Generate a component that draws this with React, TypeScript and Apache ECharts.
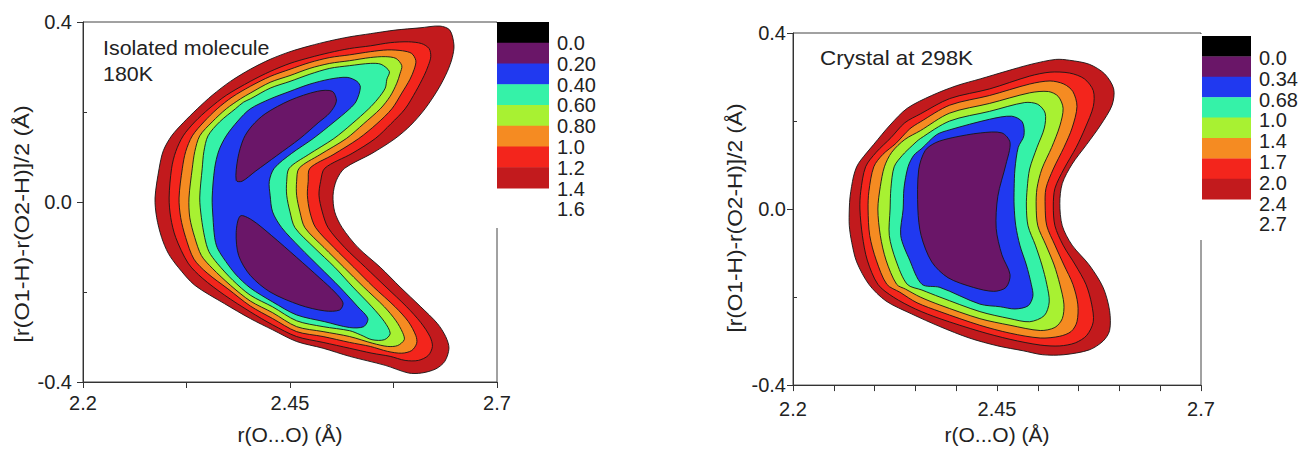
import { useEffect, useRef } from "react";
import * as echarts from "echarts";

// ---------- Left panel: isolated molecule, 180K (contour boundaries, data units) ----------
const isoOuter = [[2.287,0.009],[2.292,0.075],[2.297,0.114],[2.307,0.147],[2.321,0.176],[2.338,0.207],[2.356,0.237],[2.378,0.268],[2.402,0.295],[2.426,0.317],[2.450,0.334],[2.474,0.347],[2.498,0.358],[2.522,0.367],[2.547,0.374],[2.577,0.382],[2.607,0.387],[2.631,0.391],[2.643,0.382],[2.648,0.349],[2.646,0.321],[2.640,0.290],[2.629,0.251],[2.613,0.207],[2.596,0.171],[2.577,0.141],[2.549,0.108],[2.516,0.075],[2.506,0.048],[2.502,0.015],[2.504,-0.022],[2.513,-0.057],[2.532,-0.101],[2.559,-0.145],[2.583,-0.189],[2.608,-0.233],[2.628,-0.270],[2.638,-0.299],[2.642,-0.325],[2.637,-0.354],[2.626,-0.371],[2.609,-0.380],[2.593,-0.380],[2.565,-0.363],[2.522,-0.343],[2.490,-0.325],[2.458,-0.310],[2.429,-0.284],[2.402,-0.259],[2.371,-0.226],[2.335,-0.185],[2.315,-0.145],[2.303,-0.114],[2.295,-0.079],[2.289,-0.035]];
const isoRed = [[2.304,0.009],[2.307,0.075],[2.312,0.112],[2.321,0.147],[2.335,0.178],[2.352,0.207],[2.373,0.237],[2.402,0.268],[2.426,0.290],[2.450,0.308],[2.474,0.321],[2.498,0.332],[2.522,0.341],[2.547,0.347],[2.571,0.354],[2.593,0.356],[2.609,0.352],[2.618,0.341],[2.620,0.323],[2.617,0.303],[2.612,0.281],[2.602,0.246],[2.589,0.207],[2.572,0.174],[2.553,0.141],[2.525,0.108],[2.492,0.075],[2.487,0.046],[2.485,0.015],[2.489,-0.022],[2.496,-0.057],[2.516,-0.101],[2.541,-0.145],[2.566,-0.189],[2.591,-0.233],[2.608,-0.268],[2.619,-0.299],[2.622,-0.321],[2.617,-0.341],[2.605,-0.352],[2.589,-0.352],[2.571,-0.343],[2.549,-0.336],[2.522,-0.325],[2.490,-0.312],[2.458,-0.299],[2.429,-0.273],[2.402,-0.244],[2.371,-0.207],[2.344,-0.169],[2.327,-0.136],[2.312,-0.079],[2.306,-0.035]];
const isoOrange = [[2.316,0.009],[2.320,0.075],[2.324,0.112],[2.332,0.147],[2.346,0.178],[2.362,0.207],[2.380,0.233],[2.402,0.257],[2.426,0.279],[2.450,0.295],[2.474,0.310],[2.498,0.321],[2.522,0.327],[2.547,0.334],[2.568,0.338],[2.586,0.336],[2.597,0.330],[2.602,0.314],[2.600,0.295],[2.595,0.273],[2.585,0.242],[2.573,0.207],[2.555,0.174],[2.533,0.141],[2.502,0.105],[2.474,0.075],[2.472,0.046],[2.471,0.015],[2.474,-0.022],[2.481,-0.057],[2.503,-0.101],[2.527,-0.145],[2.551,-0.189],[2.577,-0.233],[2.593,-0.266],[2.602,-0.297],[2.603,-0.314],[2.597,-0.330],[2.585,-0.336],[2.568,-0.332],[2.547,-0.321],[2.522,-0.312],[2.490,-0.299],[2.458,-0.288],[2.429,-0.259],[2.402,-0.231],[2.375,-0.193],[2.350,-0.158],[2.334,-0.127],[2.324,-0.079],[2.318,-0.035]];
const isoLime = [[2.328,0.009],[2.332,0.075],[2.335,0.112],[2.341,0.147],[2.356,0.178],[2.373,0.207],[2.390,0.229],[2.402,0.242],[2.426,0.266],[2.450,0.281],[2.474,0.297],[2.498,0.308],[2.522,0.314],[2.547,0.321],[2.565,0.323],[2.578,0.319],[2.585,0.303],[2.583,0.286],[2.579,0.264],[2.571,0.235],[2.559,0.207],[2.539,0.174],[2.518,0.141],[2.486,0.105],[2.461,0.075],[2.458,0.046],[2.458,0.015],[2.462,-0.022],[2.468,-0.057],[2.491,-0.101],[2.515,-0.145],[2.539,-0.189],[2.564,-0.233],[2.578,-0.264],[2.586,-0.290],[2.588,-0.306],[2.580,-0.319],[2.568,-0.321],[2.550,-0.314],[2.522,-0.299],[2.490,-0.288],[2.458,-0.277],[2.429,-0.246],[2.402,-0.220],[2.378,-0.185],[2.356,-0.147],[2.343,-0.119],[2.335,-0.079],[2.329,-0.035]];
const isoCyan = [[2.341,0.009],[2.344,0.075],[2.346,0.112],[2.351,0.147],[2.365,0.178],[2.384,0.207],[2.394,0.222],[2.402,0.229],[2.426,0.253],[2.450,0.268],[2.474,0.284],[2.498,0.297],[2.522,0.303],[2.547,0.308],[2.560,0.306],[2.570,0.290],[2.567,0.273],[2.565,0.253],[2.556,0.229],[2.545,0.207],[2.525,0.174],[2.503,0.141],[2.472,0.105],[2.449,0.075],[2.446,0.046],[2.446,0.015],[2.450,-0.022],[2.456,-0.057],[2.479,-0.101],[2.504,-0.145],[2.526,-0.189],[2.549,-0.233],[2.564,-0.266],[2.571,-0.292],[2.564,-0.306],[2.549,-0.306],[2.535,-0.295],[2.522,-0.286],[2.490,-0.277],[2.458,-0.264],[2.429,-0.233],[2.402,-0.207],[2.381,-0.174],[2.362,-0.136],[2.352,-0.110],[2.347,-0.079],[2.343,-0.035]];
const isoBlue = [[2.356,0.009],[2.359,0.075],[2.364,0.114],[2.373,0.147],[2.387,0.180],[2.402,0.207],[2.426,0.229],[2.450,0.246],[2.474,0.262],[2.498,0.273],[2.519,0.277],[2.531,0.268],[2.535,0.255],[2.530,0.224],[2.522,0.207],[2.502,0.176],[2.478,0.141],[2.452,0.108],[2.431,0.075],[2.425,0.046],[2.426,0.015],[2.429,-0.022],[2.440,-0.057],[2.462,-0.101],[2.486,-0.145],[2.510,-0.189],[2.532,-0.233],[2.544,-0.259],[2.539,-0.277],[2.522,-0.279],[2.492,-0.266],[2.458,-0.251],[2.429,-0.222],[2.402,-0.191],[2.384,-0.160],[2.369,-0.123],[2.362,-0.101],[2.359,-0.079],[2.357,-0.035]];
const isoPurpleUpper = [[2.385,0.048],[2.387,0.097],[2.394,0.141],[2.404,0.169],[2.420,0.196],[2.450,0.226],[2.483,0.246],[2.501,0.246],[2.506,0.224],[2.498,0.198],[2.484,0.176],[2.462,0.141],[2.434,0.103],[2.408,0.068],[2.392,0.046]];
const isoPurpleLower = [[2.390,-0.031],[2.385,-0.068],[2.388,-0.119],[2.402,-0.163],[2.426,-0.200],[2.462,-0.229],[2.492,-0.242],[2.510,-0.240],[2.514,-0.224],[2.504,-0.200],[2.486,-0.169],[2.458,-0.123],[2.428,-0.075],[2.404,-0.040]];

// ---------- Right panel: crystal at 298K ----------
const cryOuter = [[2.269,0.000],[2.270,0.029],[2.274,0.073],[2.278,0.096],[2.283,0.111],[2.299,0.147],[2.319,0.191],[2.340,0.229],[2.370,0.258],[2.400,0.280],[2.430,0.296],[2.461,0.313],[2.492,0.329],[2.522,0.340],[2.539,0.338],[2.563,0.329],[2.582,0.307],[2.593,0.273],[2.591,0.236],[2.577,0.191],[2.560,0.147],[2.542,0.102],[2.530,0.058],[2.527,0.013],[2.530,-0.038],[2.542,-0.082],[2.563,-0.127],[2.580,-0.178],[2.588,-0.231],[2.588,-0.276],[2.580,-0.300],[2.563,-0.320],[2.532,-0.331],[2.506,-0.331],[2.482,-0.322],[2.451,-0.311],[2.416,-0.293],[2.380,-0.267],[2.345,-0.238],[2.314,-0.209],[2.293,-0.171],[2.278,-0.120],[2.272,-0.076],[2.269,-0.038]];
const cryRed = [[2.282,0.000],[2.283,0.040],[2.289,0.096],[2.302,0.129],[2.320,0.162],[2.337,0.196],[2.356,0.216],[2.392,0.251],[2.441,0.273],[2.490,0.302],[2.515,0.311],[2.539,0.309],[2.557,0.296],[2.568,0.269],[2.568,0.233],[2.558,0.184],[2.547,0.140],[2.532,0.091],[2.521,0.047],[2.519,0.007],[2.521,-0.038],[2.531,-0.082],[2.546,-0.127],[2.559,-0.171],[2.566,-0.216],[2.568,-0.256],[2.560,-0.287],[2.546,-0.304],[2.527,-0.311],[2.503,-0.309],[2.466,-0.296],[2.429,-0.278],[2.380,-0.249],[2.350,-0.227],[2.323,-0.200],[2.304,-0.171],[2.291,-0.116],[2.285,-0.060]];
const cryOrange = [[2.292,0.000],[2.293,0.040],[2.299,0.096],[2.310,0.124],[2.326,0.149],[2.343,0.182],[2.356,0.198],[2.392,0.236],[2.441,0.258],[2.490,0.284],[2.515,0.291],[2.532,0.284],[2.543,0.267],[2.548,0.233],[2.542,0.184],[2.532,0.140],[2.519,0.091],[2.510,0.047],[2.509,0.007],[2.511,-0.038],[2.521,-0.082],[2.532,-0.127],[2.543,-0.171],[2.549,-0.216],[2.548,-0.256],[2.541,-0.278],[2.527,-0.289],[2.503,-0.293],[2.466,-0.282],[2.429,-0.264],[2.380,-0.233],[2.352,-0.213],[2.331,-0.189],[2.315,-0.171],[2.302,-0.116],[2.294,-0.060]];
const cryLime = [[2.304,0.000],[2.307,0.051],[2.312,0.096],[2.321,0.129],[2.337,0.158],[2.356,0.178],[2.392,0.218],[2.441,0.240],[2.490,0.264],[2.513,0.267],[2.525,0.256],[2.531,0.229],[2.527,0.189],[2.517,0.140],[2.505,0.091],[2.499,0.047],[2.498,0.007],[2.500,-0.038],[2.510,-0.082],[2.520,-0.127],[2.527,-0.171],[2.532,-0.216],[2.530,-0.249],[2.521,-0.269],[2.503,-0.276],[2.466,-0.264],[2.429,-0.249],[2.380,-0.218],[2.356,-0.200],[2.338,-0.182],[2.327,-0.171],[2.314,-0.116],[2.307,-0.060]];
const cryCyan = [[2.319,0.000],[2.320,0.047],[2.324,0.096],[2.334,0.122],[2.346,0.144],[2.356,0.160],[2.392,0.200],[2.441,0.222],[2.484,0.242],[2.500,0.238],[2.509,0.218],[2.508,0.184],[2.499,0.140],[2.490,0.091],[2.487,0.047],[2.486,0.007],[2.488,-0.038],[2.497,-0.082],[2.505,-0.127],[2.511,-0.171],[2.514,-0.211],[2.508,-0.242],[2.490,-0.256],[2.466,-0.249],[2.429,-0.233],[2.380,-0.200],[2.358,-0.184],[2.340,-0.171],[2.326,-0.116],[2.318,-0.060]];
const cryBlue = [[2.335,0.000],[2.336,0.047],[2.341,0.096],[2.348,0.122],[2.358,0.138],[2.376,0.169],[2.392,0.180],[2.441,0.204],[2.468,0.211],[2.481,0.198],[2.483,0.167],[2.476,0.140],[2.472,0.091],[2.471,0.047],[2.471,0.007],[2.473,-0.038],[2.478,-0.082],[2.486,-0.127],[2.492,-0.171],[2.494,-0.198],[2.488,-0.220],[2.472,-0.227],[2.454,-0.222],[2.429,-0.216],[2.380,-0.178],[2.358,-0.171],[2.343,-0.116],[2.332,-0.060]];
const cryPurple = [[2.353,0.000],[2.354,0.089],[2.362,0.133],[2.375,0.151],[2.395,0.162],[2.430,0.173],[2.456,0.173],[2.466,0.151],[2.461,0.102],[2.451,0.029],[2.449,-0.044],[2.456,-0.104],[2.466,-0.149],[2.461,-0.178],[2.446,-0.187],[2.421,-0.178],[2.390,-0.156],[2.370,-0.120],[2.357,-0.060]];

// ---------- Colours, legends, ticks ----------
const bandColors = ["#c21a1d", "#f3251c", "#f58b22", "#a8f132", "#35f2a8", "#2039f0", "#6a1668"];
const legendColors = ["#000000", "#6a1668", "#2039f0", "#35f2a8", "#a8f132", "#f58b22", "#f3251c", "#c21a1d"];
const isoLegendLabels = ["0.0", "0.20", "0.40", "0.60", "0.80", "1.0", "1.2", "1.4", "1.6"];
const cryLegendLabels = ["0.0", "0.34", "0.68", "1.0", "1.4", "1.7", "2.0", "2.4", "2.7"];
const isoXTicks = [2.2, 2.325, 2.45, 2.575, 2.7];
const cryXTicks = [2.2, 2.25, 2.3, 2.35, 2.4, 2.45, 2.5, 2.55, 2.6, 2.65, 2.7];
const xLabelValues = [2.2, 2.45, 2.7];
const yMajorTicks = [-0.4, 0, 0.4];
const yMinorTicks = [-0.2, 0.2];

const isoBands = [isoOuter, isoRed, isoOrange, isoLime, isoCyan, isoBlue, isoPurpleUpper, isoPurpleLower];
const isoBandColors = [...bandColors, bandColors[6]];
const cryBands = [cryOuter, cryRed, cryOrange, cryLime, cryCyan, cryBlue, cryPurple];

const FONT = "'Liberation Sans', Arial, Helvetica, sans-serif";
const TXT = "#222222";
const AX = "#333333";

function makeRender(bands: number[][][], colors: string[]) {
  return (params: any, api: any) => {
    const i = params.dataIndex;
    const pts = bands[i].map((p) => api.coord(p));
    return {
      type: "polygon",
      shape: { points: pts, smooth: 0.3 },
      style: { fill: colors[i], stroke: "#161616", lineWidth: 0.9 },
    };
  };
}

function xAxisCfg(gridIndex: number, ticks: number[], margin: number, nameGap: number) {
  return {
    type: "value", gridIndex, min: 2.2, max: 2.7, position: "bottom",
    axisLine: { show: true, onZero: false, lineStyle: { color: AX, width: 1 } },
    axisTick: { show: true, length: 6, customValues: ticks, lineStyle: { color: AX } },
    axisLabel: {
      customValues: xLabelValues, formatter: (v: number) => String(v), margin,
      color: TXT, fontSize: 20, fontFamily: FONT, showMinLabel: true, showMaxLabel: true,
    },
    splitLine: { show: false },
    name: "r(O...O) (Å)", nameLocation: "middle", nameGap,
    nameTextStyle: { color: TXT, fontSize: 21, fontFamily: FONT },
  };
}
function yAxisCfg(gridIndex: number, margin: number) {
  return {
    type: "value", gridIndex, min: -0.4, max: 0.4, position: "left",
    axisLine: { show: true, onZero: false, lineStyle: { color: AX, width: 1 } },
    axisTick: { show: true, length: 6, customValues: yMajorTicks, lineStyle: { color: AX } },
    axisLabel: {
      customValues: yMajorTicks, formatter: (v: number) => v.toFixed(1), margin,
      color: TXT, fontSize: 20, fontFamily: FONT, showMinLabel: true, showMaxLabel: true,
    },
    splitLine: { show: false },
  };
}
function yMinorCfg(gridIndex: number) {
  return {
    type: "value", gridIndex, min: -0.4, max: 0.4, position: "left",
    axisLine: { show: false },
    axisTick: { show: true, inside: true, length: 4, customValues: yMinorTicks, lineStyle: { color: AX } },
    axisLabel: { show: false },
    splitLine: { show: false },
  };
}

function legendGraphics(x: number, top: number, w: number, h: number, labels: string[], lx: number, ly0: number, cover: number[]) {
  const els: any[] = [
    { type: "rect", z: 100, shape: { x: cover[0], y: cover[1], width: cover[2], height: cover[3] }, style: { fill: "#ffffff" } },
  ];
  legendColors.forEach((c, i) => {
    els.push({ type: "rect", z: 101, shape: { x, y: top + i * h, width: w, height: h + 0.4 }, style: { fill: c } });
  });
  labels.forEach((t, i) => {
    els.push({
      type: "text", z: 101, x: lx, y: ly0 + i * 20.8,
      style: { text: t, fill: TXT, fontSize: 20, fontFamily: FONT, align: "left", verticalAlign: "middle", textAlign: "left", textVerticalAlign: "middle" },
    });
  });
  return els;
}

function textEl(text: string, x: number, y: number, size: number, sx: number, rotation = 0, align = "left") {
  return {
    type: "text", z: 101, x, y, rotation, scaleX: sx,
    style: { text, fill: TXT, fontSize: size, fontFamily: FONT, align, verticalAlign: "middle", textAlign: align, textVerticalAlign: "middle" },
  };
}

export default function App() {
  const ref = useRef<HTMLDivElement>(null);
  useEffect(() => {
    if (!ref.current) return;
    const chart = echarts.init(ref.current, undefined, { renderer: "svg" });
    chart.setOption({
      animation: false,
      backgroundColor: "#ffffff",
      grid: [
        { left: 83, top: 22, width: 414, height: 364, show: true, borderColor: "#444", borderWidth: 1, containLabel: false },
        { left: 793, top: 33, width: 408, height: 360, show: true, borderColor: "#444", borderWidth: 1, containLabel: false },
      ],
      xAxis: [xAxisCfg(0, isoXTicks, 11, 42), xAxisCfg(1, cryXTicks, 14, 33)],
      yAxis: [yAxisCfg(0, 11), yMinorCfg(0), yAxisCfg(1, 7), yMinorCfg(1)],
      series: [
        {
          type: "custom", xAxisIndex: 0, yAxisIndex: 0, silent: true,
          renderItem: makeRender(isoBands, isoBandColors),
          data: isoBands.map((b) => [b[0][0], b[0][1]]),
        },
        {
          type: "custom", xAxisIndex: 1, yAxisIndex: 2, silent: true,
          renderItem: makeRender(cryBands, bandColors),
          data: cryBands.map((b) => [b[0][0], b[0][1]]),
        },
      ],
      graphic: {
        elements: [
          ...legendGraphics(497, 22, 52, 20.75, isoLegendLabels, 557, 43, [496, 23, 110, 205]),
          ...legendGraphics(1202, 36, 49, 20.4, cryLegendLabels, 1259, 58, [1199, 34, 101, 206]),
          textEl("Isolated molecule", 103, 48, 20, 1.07),
          textEl("180K", 103, 74, 20, 1.07),
          textEl("Crystal at 298K", 820, 58, 20, 1.12),
          textEl("[r(O1-H)-r(O2-H)]/2 (Å)", 22, 224, 21, 1.12, Math.PI / 2, "center"),
          textEl("[r(O1-H)-r(O2-H)]/2 (Å)", 735, 218, 21, 1.08, Math.PI / 2, "center"),
        ],
      },
    });
    return () => chart.dispose();
  }, []);
  return <div ref={ref} style={{ position: "absolute", left: 0, top: 0, width: 1300, height: 450 }} />;
}
